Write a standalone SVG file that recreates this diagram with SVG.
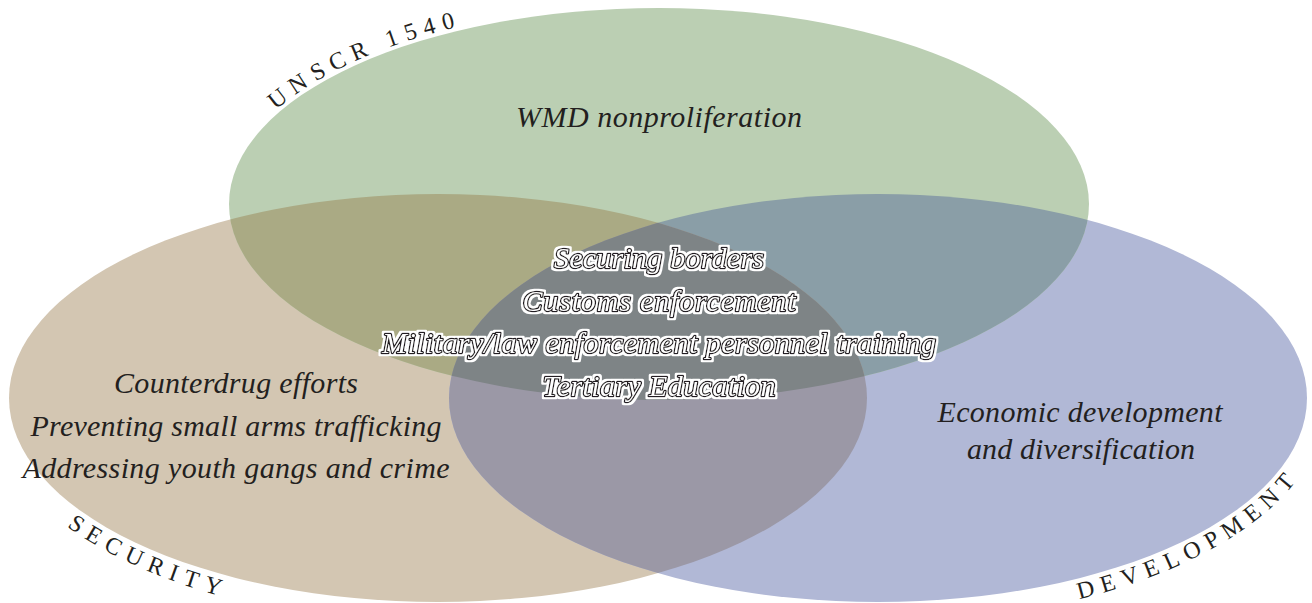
<svg xmlns="http://www.w3.org/2000/svg" width="1312" height="603" viewBox="0 0 1312 603">
  <style>
    .lbl { font-family: "Liberation Serif", serif; font-style: italic; font-size: 30px; fill: #231f20; text-anchor: middle; }
    .core { font-family: "Liberation Serif", serif; font-style: italic; font-size: 30px; fill: #ffffff; stroke: #231f20; stroke-width: 2.6px; paint-order: stroke fill; stroke-linejoin: round; text-anchor: middle; }
    .arc { font-family: "Liberation Serif", serif; font-size: 24px; fill: #231f20; letter-spacing: 7.3px; }
  </style>
  <defs>
    <ellipse id="eG" cx="659" cy="204" rx="430" ry="196"/>
    <ellipse id="eT" cx="438" cy="398" rx="429" ry="204"/>
    <ellipse id="eB" cx="878" cy="398" rx="429" ry="204"/>
    <clipPath id="cT"><use href="#eT"/></clipPath>
    <clipPath id="cB"><use href="#eB"/></clipPath>
    <path id="pU" d="M225,204 A434,200 0 0 1 1093,204"/>
    <path id="pS" d="M-13,398 A451,226 0 0 0 438,624"/>
    <path id="pD" d="M878,623 A450,225 0 0 0 1328,398"/>
    <filter id="halo" x="-5%" y="-30%" width="110%" height="160%">
      <feMorphology in="SourceAlpha" operator="dilate" radius="2" result="d"/>
      <feFlood flood-color="#ffffff"/>
      <feComposite in2="d" operator="in" result="w"/>
      <feMerge><feMergeNode in="w"/><feMergeNode in="SourceGraphic"/></feMerge>
    </filter>
  </defs>
  <rect width="1312" height="603" fill="#ffffff"/>
  <g id="sets">
    <use href="#eT" fill="#d3c6b2"/>
    <use href="#eB" fill="#b1b8d6"/>
    <use href="#eG" fill="#bbcfb3"/>
    <g clip-path="url(#cB)">
      <use href="#eG" fill="#8a9ea7"/>
    </g>
    <g clip-path="url(#cT)">
      <use href="#eG" fill="#aaaa84"/>
      <use href="#eB" fill="#9b98a6"/>
      <g clip-path="url(#cB)">
        <use href="#eG" fill="#7e8486"/>
      </g>
    </g>
  </g>
  <g id="connectors"/>
  <g id="unscr1540">
    <text class="arc"><textPath href="#pU" startOffset="110">UNSCR 1540</textPath></text>
    <text class="lbl" x="659" y="127" textLength="286">WMD nonproliferation</text>
  </g>
  <g id="security">
    <text class="arc"><textPath href="#pS" startOffset="157">SECURITY</textPath></text>
    <text class="lbl" x="236" y="393" textLength="244">Counterdrug efforts</text>
    <text class="lbl" x="236" y="436" textLength="411">Preventing small arms trafficking</text>
    <text class="lbl" x="236" y="478" textLength="427">Addressing youth gangs and crime</text>
  </g>
  <g id="development">
    <text class="arc"><textPath href="#pD" startOffset="203">DEVELOPMENT</textPath></text>
    <text class="lbl" x="1080" y="422" textLength="285">Economic development</text>
    <text class="lbl" x="1081" y="459" textLength="228">and diversification</text>
  </g>
  <g id="shared" filter="url(#halo)">
    <text class="core" x="659" y="268" textLength="210">Securing borders</text>
    <text class="core" x="659" y="311" textLength="273">Customs enforcement</text>
    <text class="core" x="659" y="353" textLength="554">Military/law enforcement personnel training</text>
    <text class="core" x="659" y="396" textLength="233">Tertiary Education</text>
  </g>
</svg>
